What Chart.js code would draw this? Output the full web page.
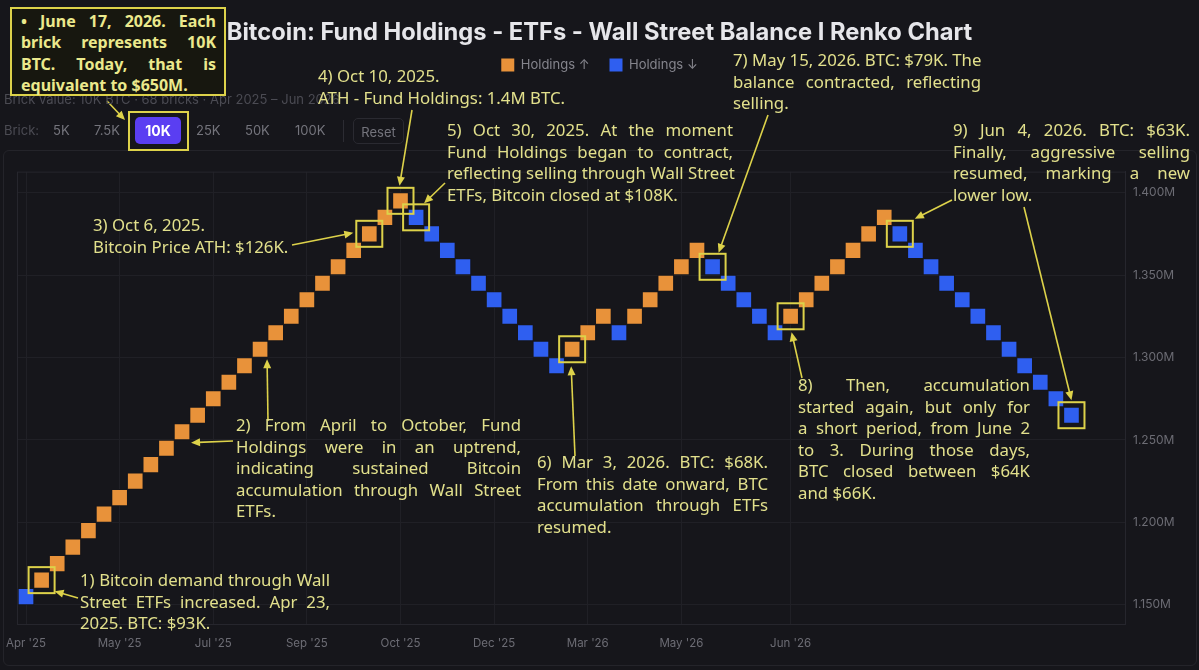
<!DOCTYPE html>
<html>
<head>
<meta charset="utf-8">
<script src="https://cdn.jsdelivr.net/npm/chart.js@4.4.1/dist/chart.umd.min.js"></script>
<style>
  html, body { margin: 0; padding: 0; background: #16161b; }
  #wrap { position: relative; width: 1199px; height: 670px; overflow: hidden; font-family: Inter, "Noto Sans", sans-serif; }
  #panel { position: absolute; left: 3px; top: 150px; width: 1192px; height: 514px; border: 1px solid #24242a; border-radius: 6px; }
  #chartBox { position: absolute; left: 0; top: 0; width: 1199px; height: 670px; }
  .ui { position: absolute; font-size: 13px; color: #74747c; white-space: nowrap; line-height: 16px; }
  .btn10 { position: absolute; left: 135px; top: 117px; width: 46px; height: 27px; background: #5a3ef2; border-radius: 5px;
           color: #fff; font-weight: 700; font-size: 14px; line-height: 27px; text-align: center; }
  .reset { position: absolute; left: 353px; top: 118px; width: 51px; height: 26px; border: 1px solid #2a2a31; border-radius: 5px;
           color: #74747c; font-size: 13px; line-height: 26px; text-align: center; box-sizing: border-box; }
  .sep { position: absolute; left: 343px; top: 120px; width: 1px; height: 22px; background: #2c2c33; }
  .note { position: absolute; color: #e2e08c; font-family: "Noto Sans", sans-serif; font-size: 16.8px; line-height: 21.5px; white-space: nowrap; }
  .note div.j { text-align: justify; text-align-last: justify; }
  #boxNote { position: absolute; left: 10px; top: 7px; width: 216px; height: 89px; box-sizing: border-box;
             border: 2px solid #ddd24a; background: #17170f; padding: 2px 8px 0 9px;
             color: #ebe98c; font-family: "Noto Sans", sans-serif; font-weight: 700; font-size: 16px; line-height: 21.3px; white-space: nowrap; }
  #boxNote div.j { text-align: justify; text-align-last: justify; }
</style>
</head>
<body>
<div id="wrap">
  <div id="panel"></div>
  <div id="chartBox"><canvas id="renko"></canvas></div>

  <div class="ui" style="left:4px; top:91px; color:#4b4b53;">Brick value: 10K BTC · 68 bricks · Apr 2025 – Jun 2026</div>
  <div class="ui" style="left:4px; top:122px; color:#4b4b53;">Brick:</div>
  <div class="ui" style="left:53px; top:122px;">5K</div>
  <div class="ui" style="left:94px; top:122px;">7.5K</div>
  <div class="btn10">10K</div>
  <div class="ui" style="left:196px; top:122px;">25K</div>
  <div class="ui" style="left:245px; top:122px;">50K</div>
  <div class="ui" style="left:295px; top:122px;">100K</div>
  <div class="sep"></div>
  <div class="reset">Reset</div>

  <div id="boxNote">
    <div class="j">• June 17, 2026. Each</div>
    <div class="j">brick represents 10K</div>
    <div class="j">BTC. Today, that is</div>
    <div>equivalent to $650M.</div>
  </div>

  <div class="note" style="left:80px; top:569px; width:250px;">
    <div class="j">1) Bitcoin demand through Wall</div>
    <div class="j">Street ETFs increased. Apr 23,</div>
    <div>2025. BTC: $93K.</div>
  </div>
  <div class="note" style="left:236px; top:414px; width:285px;">
    <div class="j">2) From April to October, Fund</div>
    <div class="j">Holdings were in an uptrend,</div>
    <div class="j">indicating sustained Bitcoin</div>
    <div class="j">accumulation through Wall Street</div>
    <div>ETFs.</div>
  </div>
  <div class="note" style="left:93px; top:214px;">
    <div>3) Oct 6, 2025.</div>
    <div>Bitcoin Price ATH: $126K.</div>
  </div>
  <div class="note" style="left:318px; top:65px;">
    <div>4) Oct 10, 2025.</div>
    <div>ATH - Fund Holdings: 1.4M BTC.</div>
  </div>
  <div class="note" style="left:447px; top:119px; width:286px;">
    <div class="j">5) Oct 30, 2025. At the moment</div>
    <div class="j">Fund Holdings began to contract,</div>
    <div class="j">reflecting selling through Wall Street</div>
    <div>ETFs, Bitcoin closed at $108K.</div>
  </div>
  <div class="note" style="left:537px; top:451px; width:231px;">
    <div class="j">6) Mar 3, 2026. BTC: $68K.</div>
    <div class="j">From this date onward, BTC</div>
    <div class="j">accumulation through ETFs</div>
    <div>resumed.</div>
  </div>
  <div class="note" style="left:733px; top:49px; width:248px;">
    <div class="j">7) May 15, 2026. BTC: $79K. The</div>
    <div class="j">balance contracted, reflecting</div>
    <div>selling.</div>
  </div>
  <div class="note" style="left:798px; top:374px; width:232px;">
    <div class="j">8) Then, accumulation</div>
    <div class="j">started again, but only for</div>
    <div class="j">a short period, from June 2</div>
    <div class="j">to 3. During those days,</div>
    <div class="j">BTC closed between $64K</div>
    <div>and $66K.</div>
  </div>
  <div class="note" style="left:953px; top:119px; width:237px;">
    <div class="j">9) Jun 4, 2026. BTC: $63K.</div>
    <div class="j">Finally, aggressive selling</div>
    <div class="j">resumed, marking a new</div>
    <div>lower low.</div>
  </div>
</div>

<script>
// Renko bricks: lower edge of each brick (K BTC) and its direction
const brickSize = 10;
const brickLow = [
  1150,
  1160, 1170, 1180, 1190, 1200, 1210, 1220, 1230, 1240, 1250, 1260, 1270,
  1280, 1290, 1300, 1310, 1320, 1330, 1340, 1350, 1360, 1370, 1380, 1390,
  1380, 1370, 1360, 1350, 1340, 1330, 1320, 1310, 1300, 1290,
  1300, 1310, 1320, 1310, 1320, 1330, 1340, 1350, 1360,
  1350, 1340, 1330, 1320, 1310,
  1320, 1330, 1340, 1350, 1360, 1370, 1380,
  1370, 1360, 1350, 1340, 1330, 1320, 1310, 1300, 1290, 1280, 1270, 1260
];
const brickDir = [
  'd',
  'u', 'u', 'u', 'u', 'u', 'u', 'u', 'u', 'u', 'u', 'u', 'u',
  'u', 'u', 'u', 'u', 'u', 'u', 'u', 'u', 'u', 'u', 'u', 'u',
  'd', 'd', 'd', 'd', 'd', 'd', 'd', 'd', 'd', 'd',
  'u', 'u', 'u', 'd', 'u', 'u', 'u', 'u', 'u',
  'd', 'd', 'd', 'd', 'd',
  'u', 'u', 'u', 'u', 'u', 'u', 'u',
  'd', 'd', 'd', 'd', 'd', 'd', 'd', 'd', 'd', 'd', 'd', 'd'
];

// x axis month labels sit on these brick positions
const tickIdx = [0, 6, 12, 18, 24, 30, 36, 42, 49];
const tickLabels = ["Apr '25", "May '25", "Jul '25", "Sep '25", "Oct '25", "Dec '25", "Mar '26", "May '26", "Jun '26"];
const yTicks = [1150, 1200, 1250, 1300, 1350, 1400];

// bricks with a yellow box in the reference
const highlightIdx = [1, 22, 24, 25, 35, 44, 49, 56, 67];

const BG = '#16161b';
const UP = '#e8923a';
const DOWN = '#2f5ff0';
const YEL = '#ddd24a';

function bricksFor(dir) {
  const out = [];
  brickLow.forEach((lo, i) => {
    if (brickDir[i] === dir) out.push({ x: i, y: [lo, lo + brickSize] });
  });
  return out;
}

// arrow targets: brick index + pixel offset from brick centre; tails are note anchors
const arrows = [
  { from: [78, 598], brick: 1, dx: 13, dy: 11 },
  { from: [268, 421], brick: 15, dx: 7, dy: 10 },
  { from: [233, 441], brick: 10, dx: 9, dy: 11 },
  { from: [292, 245], brick: 22, dx: -16, dy: -1 },
  { from: [412, 110], brick: 24, dx: -1, dy: -15 },
  { from: [445, 183], brick: 25, dx: 8, dy: -14 },
  { from: [575, 456], brick: 35, dx: -1, dy: 17 },
  { from: [768, 115], brick: 44, dx: 6, dy: -14 },
  { from: [802, 378], brick: 49, dx: 1, dy: 16 },
  { from: [952, 200], brick: 56, dx: 15, dy: -15 },
  { from: [1024, 207], brick: 67, dx: 0, dy: -15 }
];

function drawArrow(ctx, x1, y1, x2, y2) {
  const a = Math.atan2(y2 - y1, x2 - x1);
  const len = 9, w = 4;
  ctx.beginPath();
  ctx.moveTo(x1, y1);
  ctx.lineTo(x2 - Math.cos(a) * len * 0.8, y2 - Math.sin(a) * len * 0.8);
  ctx.stroke();
  ctx.beginPath();
  ctx.moveTo(x2, y2);
  ctx.lineTo(x2 - Math.cos(a) * len - Math.sin(a) * w, y2 - Math.sin(a) * len + Math.cos(a) * w);
  ctx.lineTo(x2 - Math.cos(a) * len + Math.sin(a) * w, y2 - Math.sin(a) * len - Math.cos(a) * w);
  ctx.closePath();
  ctx.fill();
}

const framePlugin = {
  id: 'frame',
  beforeDatasetsDraw(chart) {
    const { ctx, chartArea: a } = chart;
    ctx.save();
    ctx.strokeStyle = '#26262d';
    ctx.lineWidth = 1;
    ctx.strokeRect(a.left + 0.5, a.top + 0.5, a.right - a.left, a.bottom - a.top);
    ctx.restore();
  }
};

const notesPlugin = {
  id: 'notes',
  afterDatasetsDraw(chart) {
    const { ctx, scales: { x, y } } = chart;
    ctx.save();
    ctx.strokeStyle = YEL;
    ctx.fillStyle = YEL;
    ctx.lineWidth = 2;
    highlightIdx.forEach(i => {
      const cx = x.getPixelForValue(i);
      const cy = y.getPixelForValue(brickLow[i] + brickSize / 2);
      ctx.strokeRect(cx - 13, cy - 13, 26, 26);
    });
    // box round the 10K button and its pointer
    ctx.strokeRect(129, 112, 59, 38);
    ctx.lineWidth = 1.6;
    drawArrow(ctx, 107, 101, 125, 120);
    arrows.forEach(ar => {
      const tx = x.getPixelForValue(ar.brick) + ar.dx;
      const ty = y.getPixelForValue(brickLow[ar.brick] + brickSize / 2) + ar.dy;
      drawArrow(ctx, ar.from[0], ar.from[1], tx, ty);
    });
    ctx.restore();
  }
};

new Chart(document.getElementById('renko'), {
  type: 'bar',
  data: {
    datasets: [
      { label: 'Holdings ↑', data: bricksFor('u'), backgroundColor: UP, borderColor: BG },
      { label: 'Holdings ↓', data: bricksFor('d'), backgroundColor: DOWN, borderColor: BG }
    ]
  },
  options: {
    responsive: true,
    maintainAspectRatio: false,
    animation: false,
    layout: { padding: { top: 12, left: 17, right: 17, bottom: 0 } },
    datasets: {
      bar: { grouped: false, barThickness: 16, borderWidth: 1, borderSkipped: false }
    },
    plugins: {
      title: {
        display: true,
        text: 'Bitcoin: Fund Holdings - ETFs - Wall Street Balance I Renko Chart',
        color: '#e6e6ea',
        font: { family: 'Inter', size: 23.7, weight: 'bold' },
        padding: { top: 7, bottom: -9 }
      },
      legend: {
        display: true,
        labels: {
          boxWidth: 13,
          boxHeight: 13,
          padding: 20,
          color: '#85858d',
          font: { family: 'Inter', size: 13 },
          generateLabels: c => Chart.defaults.plugins.legend.labels.generateLabels(c)
            .map(l => ({ ...l, lineWidth: 0, strokeStyle: l.fillStyle }))
        }
      },
      subtitle: {
        display: true,
        text: ' ',
        weight: 500,
        font: { size: 1 },
        padding: { top: 0, bottom: 89 }
      },
      tooltip: { enabled: false }
    },
    scales: {
      x: {
        type: 'linear',
        offset: false,
        min: -0.577,
        max: 70.43,
        afterBuildTicks: s => { s.ticks = tickIdx.map(v => ({ value: v })); },
        afterFit: s => { s.height = 46; s.paddingLeft = 0; s.paddingRight = 0; },
        ticks: {
          autoSkip: false,
          maxRotation: 0,
          padding: 13,
          color: '#6c6c74',
          font: { family: 'Inter', size: 11.5 },
          callback: v => tickLabels[tickIdx.indexOf(v)]
        },
        grid: { color: '#202026', drawTicks: false, offset: false },
        border: { color: '#26262d' }
      },
      y: {
        position: 'right',
        min: 1138.4,
        max: 1412.7,
        afterBuildTicks: s => { s.ticks = yTicks.map(v => ({ value: v })); },
        afterFit: s => { s.width = 57; },
        ticks: {
          padding: 8,
          color: '#6c6c74',
          font: { family: 'Inter', size: 12 },
          callback: v => (v / 1000).toFixed(3) + 'M'
        },
        grid: { color: '#202026', drawTicks: false },
        border: { color: '#26262d' }
      }
    }
  },
  plugins: [framePlugin, notesPlugin]
});
</script>
</body>
</html>
